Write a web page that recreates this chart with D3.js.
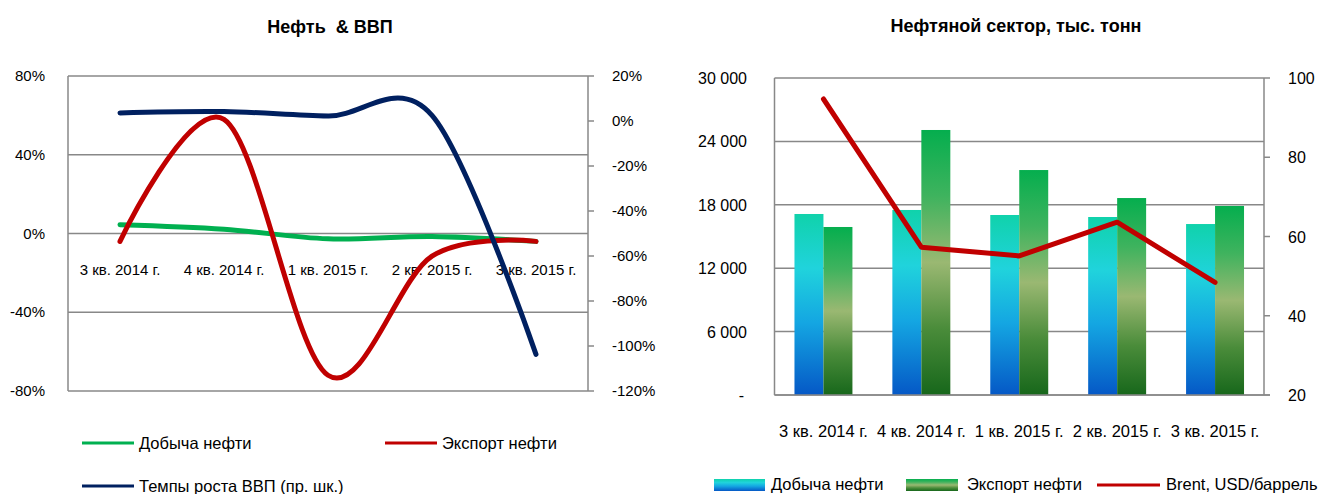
<!DOCTYPE html>
<html>
<head>
<meta charset="utf-8">
<script src="https://cdn.jsdelivr.net/npm/d3@7"></script>
<style>
  html, body { margin: 0; padding: 0; background: #fff; overflow: hidden; }
  svg { display: block; font-family: 'Liberation Sans', Arial, sans-serif; }
  text { white-space: pre; }
</style>
</head>
<body>
<svg id="chart" width="1322" height="494"></svg>
<script>
// ---------- DATA ----------
const categories = ["3 кв. 2014 г.", "4 кв. 2014 г.", "1 кв. 2015 г.", "2 кв. 2015 г.", "3 кв. 2015 г."];

// Left chart: "Нефть & ВВП"
const dobychaPct = [4.5, 2.2, -2.7, -1.5, -4];        // left axis, %
const exportPct = [-4, 58, -72, -11.5, -4];            // left axis, %
const gdpGrowthPct = [3.6, 4.2, 2.2, 2.5, -103.7];     // right axis, %
const leftTicksPct = [-80, -40, 0, 40, 80];
const rightTicksPct = [-120, -100, -80, -60, -40, -20, 0, 20];

// Right chart: "Нефтяной сектор, тыс. тонн"
const dobychaTons = [17130, 17510, 17035, 16845, 16180];
const exportTons = [15900, 25080, 21290, 18640, 17890];
const brentUsd = [94.7, 57.3, 55.1, 63.6, 48.4];
const tonsTicks = [0, 6000, 12000, 18000, 24000, 30000];
const brentTicks = [20, 40, 60, 80, 100];

const seriesNamesLeft = ["Добыча нефти", "Экспорт нефти", "Темпы роста ВВП (пр. шк.)"];
const seriesNamesRight = ["Добыча нефти", "Экспорт нефти", "Brent, USD/баррель"];

// ---------- STYLE ----------
const C_GREEN = "#00b050", C_RED = "#c00000", C_NAVY = "#002060", C_GRID = "#888888";
const svg = d3.select("#chart");

const defs = svg.append("defs");
function grad(id, stops) {
  const g = defs.append("linearGradient").attr("id", id)
    .attr("x1", 0).attr("y1", 0).attr("x2", 0).attr("y2", 1);
  stops.forEach(([o, c]) => g.append("stop").attr("offset", o).attr("stop-color", c));
}
grad("gDob", [[0, "#10d2ab"], [0.3, "#20d3dc"], [0.6, "#14a6e2"], [1, "#0558c6"]]);
grad("gExp", [[0, "#05ae4e"], [0.25, "#3fb35e"], [0.5, "#9ab872"], [0.75, "#4a8c3a"], [1, "#17671b"]]);

// =============== LEFT CHART ===============
(function () {
  const L = 68, R = 588, T = 76, B = 391;
  const x = d3.scaleBand().domain(categories).range([L, R]);
  const yL = d3.scaleLinear().domain([-80, 80]).range([B, T]);
  const yR = d3.scaleLinear().domain([-120, 20]).range([B, T]);
  const g = svg.append("g");

  g.append("text").attr("x", 330).attr("y", 33).attr("text-anchor", "middle")
    .attr("font-weight", "bold").attr("font-size", 18).text("Нефть  & ВВП");

  g.selectAll(".gl").data(leftTicksPct).enter().append("line")
    .attr("x1", L).attr("x2", R).attr("y1", d => yL(d)).attr("y2", d => yL(d))
    .attr("stroke", C_GRID).attr("stroke-width", 1.5);
  g.append("line").attr("x1", L).attr("x2", L).attr("y1", T).attr("y2", B).attr("stroke", C_GRID).attr("stroke-width", 1.5);
  g.append("line").attr("x1", R).attr("x2", R).attr("y1", T).attr("y2", B).attr("stroke", C_GRID).attr("stroke-width", 1.5);
  g.selectAll(".rt").data(rightTicksPct).enter().append("line")
    .attr("x1", R).attr("x2", R + 6).attr("y1", d => yR(d)).attr("y2", d => yR(d))
    .attr("stroke", C_GRID).attr("stroke-width", 1.5);

  g.selectAll(".ltl").data(leftTicksPct).enter().append("text")
    .attr("x", 45).attr("y", d => yL(d) + 5).attr("text-anchor", "end")
    .attr("font-size", 15).attr("fill", "#000").text(d => d + "%");
  g.selectAll(".rtl").data(rightTicksPct).enter().append("text")
    .attr("x", 612).attr("y", d => yR(d) + 5).attr("text-anchor", "start")
    .attr("font-size", 15).attr("fill", "#000").text(d => d + "%");

  g.selectAll(".cl").data(categories).enter().append("text")
    .attr("x", d => x(d) + x.bandwidth() / 2).attr("y", 275).attr("text-anchor", "middle")
    .attr("font-size", 15).text(d => d);

  const curve = d3.curveCardinal.tension(0);
  const lineL = d3.line().x((d, i) => x(categories[i]) + x.bandwidth() / 2).y(d => yL(d)).curve(curve);
  const lineR = d3.line().x((d, i) => x(categories[i]) + x.bandwidth() / 2).y(d => yR(d)).curve(curve);

  g.append("path").attr("d", lineL(dobychaPct)).attr("fill", "none").attr("stroke", C_GREEN)
    .attr("stroke-width", 5).attr("stroke-linecap", "round");
  g.append("path").attr("d", lineL(exportPct)).attr("fill", "none").attr("stroke", C_RED)
    .attr("stroke-width", 5).attr("stroke-linecap", "round");
  g.append("path").attr("d", lineR(gdpGrowthPct)).attr("fill", "none").attr("stroke", C_NAVY)
    .attr("stroke-width", 5).attr("stroke-linecap", "round");

  const leg = [
    { name: seriesNamesLeft[0], color: C_GREEN, x: 82, y: 443 },
    { name: seriesNamesLeft[1], color: C_RED, x: 385, y: 443 },
    { name: seriesNamesLeft[2], color: C_NAVY, x: 82, y: 486 }
  ];
  leg.forEach(l => {
    g.append("line").attr("x1", l.x).attr("x2", l.x + 52).attr("y1", l.y).attr("y2", l.y)
      .attr("stroke", l.color).attr("stroke-width", 3);
    g.append("text").attr("x", l.x + 57).attr("y", l.y + 6).attr("font-size", 16.5).text(l.name);
  });
})();

// =============== RIGHT CHART ===============
(function () {
  const L = 774.5, R = 1264, T = 78, B = 395;
  const x = d3.scaleBand().domain(categories).range([L, R]).paddingInner(0.408).paddingOuter(0.204);
  const xs = d3.scaleBand().domain(["d", "e"]).range([0, x.bandwidth()]);
  const y = d3.scaleLinear().domain([0, 30000]).range([B, T]);
  const y2 = d3.scaleLinear().domain([20, 100]).range([B, T]);
  const g = svg.append("g");

  g.append("text").attr("x", 1016).attr("y", 32).attr("text-anchor", "middle")
    .attr("font-weight", "bold").attr("font-size", 18).text("Нефтяной сектор, тыс. тонн");

  g.selectAll(".gl").data(tonsTicks).enter().append("line")
    .attr("x1", L).attr("x2", R).attr("y1", d => y(d)).attr("y2", d => y(d))
    .attr("stroke", C_GRID).attr("stroke-width", 1.5);
  g.append("line").attr("x1", R).attr("x2", R + 6).attr("y1", B).attr("y2", B).attr("stroke", C_GRID).attr("stroke-width", 1.5);
  g.append("line").attr("x1", L).attr("x2", L).attr("y1", T).attr("y2", B).attr("stroke", C_GRID).attr("stroke-width", 1.5);
  g.append("line").attr("x1", R).attr("x2", R).attr("y1", T).attr("y2", B).attr("stroke", C_GRID).attr("stroke-width", 1.5);
  g.selectAll(".rt").data(brentTicks).enter().append("line")
    .attr("x1", R).attr("x2", R + 6).attr("y1", d => y2(d)).attr("y2", d => y2(d))
    .attr("stroke", C_GRID).attr("stroke-width", 1.5);

  const fmt = d => d === 0 ? "-" : d3.format(",")(d).replace(/,/g, " ");
  g.selectAll(".ltl").data(tonsTicks).enter().append("text")
    .attr("x", d => d === 0 ? 744 : 747).attr("y", d => y(d) + 6).attr("text-anchor", "end")
    .attr("font-size", 16).text(fmt);
  g.selectAll(".rtl").data(brentTicks).enter().append("text")
    .attr("x", 1288).attr("y", d => y2(d) + 6).attr("text-anchor", "start")
    .attr("font-size", 16).text(d => d);

  g.selectAll(".bd").data(dobychaTons).enter().append("rect")
    .attr("x", (d, i) => x(categories[i]) + xs("d")).attr("width", xs.bandwidth())
    .attr("y", d => y(d)).attr("height", d => B - y(d)).attr("fill", "url(#gDob)");
  g.selectAll(".be").data(exportTons).enter().append("rect")
    .attr("x", (d, i) => x(categories[i]) + xs("e")).attr("width", xs.bandwidth())
    .attr("y", d => y(d)).attr("height", d => B - y(d)).attr("fill", "url(#gExp)");
  g.append("line").attr("x1", L).attr("x2", R).attr("y1", B).attr("y2", B).attr("stroke", C_GRID).attr("stroke-width", 1.5);

  g.selectAll(".cl").data(categories).enter().append("text")
    .attr("x", d => x(d) + x.bandwidth() / 2).attr("y", 437).attr("text-anchor", "middle")
    .attr("font-size", 16.5).text(d => d);

  const line = d3.line().x((d, i) => x(categories[i]) + x.bandwidth() / 2).y(d => y2(d));
  g.append("path").attr("d", line(brentUsd)).attr("fill", "none").attr("stroke", C_RED)
    .attr("stroke-width", 5).attr("stroke-linejoin", "round").attr("stroke-linecap", "round");

  // legend
  g.append("rect").attr("x", 714).attr("y", 479).attr("width", 51).attr("height", 12).attr("fill", "url(#gDob)");
  g.append("text").attr("x", 771).attr("y", 490).attr("font-size", 16.5).text(seriesNamesRight[0]);
  g.append("rect").attr("x", 906).attr("y", 479).attr("width", 52).attr("height", 12).attr("fill", "url(#gExp)");
  g.append("text").attr("x", 967).attr("y", 490).attr("font-size", 16.5).text(seriesNamesRight[1]);
  g.append("line").attr("x1", 1097).attr("x2", 1160).attr("y1", 485).attr("y2", 485).attr("stroke", C_RED).attr("stroke-width", 3);
  g.append("text").attr("x", 1166).attr("y", 490).attr("font-size", 16.5).text(seriesNamesRight[2]);
})();
</script>
</body>
</html>
